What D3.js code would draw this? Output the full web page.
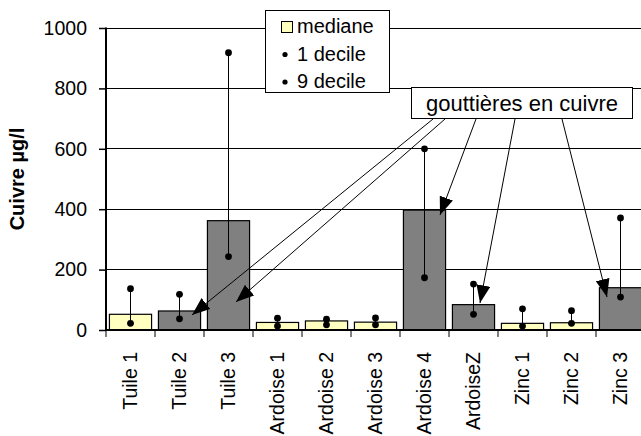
<!DOCTYPE html>
<html><head><meta charset="utf-8">
<script src="https://cdn.jsdelivr.net/npm/d3@7"></script>
<style>
html,body{margin:0;padding:0;background:#fff;}
svg{display:block;font-family:"Liberation Sans",Arial,sans-serif;}
</style></head>
<body><svg id="c" width="641" height="436"></svg>
<script>
const categories = ["Tuile 1","Tuile 2","Tuile 3","Ardoise 1","Ardoise 2","Ardoise 3","Ardoise 4","ArdoiseZ","Zinc 1","Zinc 2","Zinc 3"];
const mediane   = [52, 63, 362, 25, 30, 26, 397, 84, 22, 24, 140];
const decile1   = [22, 37, 243, 13, 17, 17, 173, 52, 13, 22, 109];
const decile9   = [137, 118, 918, 39, 36, 40, 600, 152, 70, 64, 371];
const copper    = [false, true, true, false, false, false, true, true, false, false, true];
const yTicks    = [0, 200, 400, 600, 800, 1000];
const legendLabels = ["mediane", "1 decile", "9 decile"];
const annotationText = "gouttières en cuivre";
// arrow targets: category, pixel offset from band centre, value
const arrowTargets = [
  {cat:"Tuile 2", dx:12.5, v:50},
  {cat:"Tuile 3", dx:7.5, v:93},
  {cat:"Ardoise 4", dx:15.5, v:381},
  {cat:"ArdoiseZ", dx:6.5, v:89},
  {cat:"Zinc 3", dx:-13.5, v:109}
];
const arrowSourceX = [433, 445, 476, 515, 562];

(function(){
const svg = d3.select("#c");
const pL = 106, pR = 645, pT = 28, pB = 330;
const x = d3.scaleBand().domain(categories).range([pL, pR]).paddingInner(0.14).paddingOuter(0.07);
const xb = d3.scaleBand().domain(categories).range([pL, pR]);
const y = d3.scaleLinear().domain([0, 1000]).range([pB, pT]);

const yellow = "#FFFFC0", grey = "#808080";

// gridlines
svg.append("g").selectAll("line").data(yTicks.filter(d=>d>0)).join("line")
  .attr("x1", pL).attr("x2", 641).attr("y1", d=>y(d)).attr("y2", d=>y(d))
  .attr("stroke", "#000").attr("stroke-width", 1).attr("shape-rendering","crispEdges");

// y axis
const yAxis = svg.append("g").attr("transform", `translate(${pL},0)`)
  .call(d3.axisLeft(y).tickValues(yTicks).tickSize(7).tickPadding(12).tickFormat(d3.format("d")));
yAxis.select(".domain").remove();
yAxis.selectAll("line").attr("stroke","#000").attr("stroke-width",1.5);
yAxis.selectAll("text").attr("font-size", "19.5px").attr("fill","#000")
  .attr("font-family","Liberation Sans, Arial, sans-serif");
svg.append("line").attr("x1", pL).attr("x2", pL).attr("y1", pT-0.5).attr("y2", pB+1)
  .attr("stroke","#000").attr("stroke-width",2);

// bars
svg.append("g").selectAll("rect").data(categories).join("rect")
  .attr("x", d=>x(d)).attr("width", x.bandwidth())
  .attr("y", (d,i)=>y(mediane[i])).attr("height", (d,i)=>pB - y(mediane[i]))
  .attr("fill", (d,i)=>copper[i]?grey:yellow)
  .attr("stroke", "#000").attr("stroke-width", 1.2);

// whiskers
const cx = d => x(d) + x.bandwidth()/2;
svg.append("g").selectAll("line").data(categories).join("line")
  .attr("x1", cx).attr("x2", cx)
  .attr("y1", (d,i)=>y(decile1[i])).attr("y2", (d,i)=>y(decile9[i]))
  .attr("stroke","#000").attr("stroke-width",1);
svg.append("g").selectAll("circle").data(categories.map((c,i)=>[c,decile1[i]]).concat(categories.map((c,i)=>[c,decile9[i]])))
  .join("circle").attr("cx", d=>cx(d[0])).attr("cy", d=>y(d[1])).attr("r", 3.4).attr("fill","#000");

// x axis
svg.append("line").attr("x1", pL).attr("x2", 641).attr("y1", pB).attr("y2", pB)
  .attr("stroke","#000").attr("stroke-width",2);
svg.append("g").selectAll("line").data(categories).join("line")
  .attr("x1", d=>xb(d)).attr("x2", d=>xb(d)).attr("y1", pB).attr("y2", pB+7)
  .attr("stroke","#000").attr("stroke-width",1);
svg.append("g").selectAll("text").data(categories).join("text")
  .attr("transform", d=>`translate(${xb(d)+xb.bandwidth()/2},${352}) rotate(-90)`)
  .attr("text-anchor","end").attr("dy","0.35em")
  .attr("font-size","19.5px").attr("fill","#000").text(d=>d);

// y title
svg.append("text").attr("transform", `translate(17,${(pT+pB)/2}) rotate(-90)`)
  .attr("text-anchor","middle").attr("dy","0.35em")
  .attr("font-size","20px").attr("font-weight","bold").text("Cuivre µg/l");

// legend
const lg = svg.append("g");
lg.append("rect").attr("x",265.5).attr("y",10.5).attr("width",124).attr("height",82)
  .attr("fill","#fff").attr("stroke","#000").attr("stroke-width",1);
lg.append("rect").attr("x",281.5).attr("y",21.5).attr("width",11).attr("height",11)
  .attr("fill",yellow).attr("stroke","#000").attr("stroke-width",1);
legendLabels.forEach((t,i)=>{
  const by = 33 + i*27.5;
  if (i>0) lg.append("circle").attr("cx",285).attr("cy",by-6).attr("r",2.6).attr("fill","#000");
  lg.append("text").attr("x",297).attr("y",by).attr("font-size","20px").attr("fill","#000").text(t);
});

// annotation
const defs = svg.append("defs");
defs.append("marker").attr("id","ah").attr("markerUnits","userSpaceOnUse")
  .attr("markerWidth",18).attr("markerHeight",14).attr("refX",18).attr("refY",7)
  .attr("orient","auto")
  .append("path").attr("d","M0,0 L18,7 L0,14 Z").attr("fill","#000");
arrowTargets.forEach((a,i)=>{
  svg.append("line").attr("x1",arrowSourceX[i]).attr("y1",119)
    .attr("x2", cx(a.cat)+a.dx).attr("y2", y(a.v))
    .attr("stroke","#000").attr("stroke-width",1).attr("marker-end","url(#ah)");
});
svg.append("rect").attr("x",411.5).attr("y",87.5).attr("width",221).attr("height",31)
  .attr("fill","#fff").attr("stroke","#000").attr("stroke-width",1);
svg.append("text").attr("x",522).attr("y",103).attr("dy","0.35em").attr("text-anchor","middle")
  .attr("font-size","22px").attr("fill","#000").text(annotationText);
})();
</script></body></html>
